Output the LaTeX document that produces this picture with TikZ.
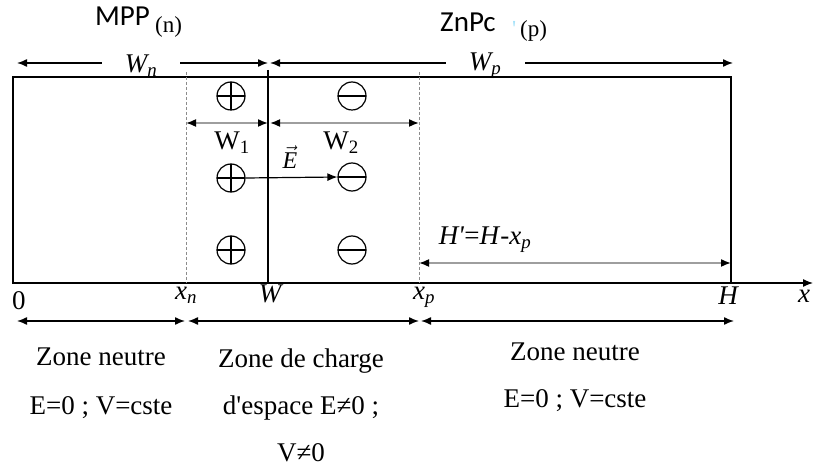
\documentclass[tikz,border=0pt]{standalone}
\usepackage{fontspec}
\setmainfont{Liberation Serif}
\newfontfamily\calib{Carlito}
\usetikzlibrary{arrows.meta,positioning}

\begin{document}
\begin{tikzpicture}[x=1pt, y=-1pt,
  font=\fontsize{27}{49}\selectfont,
  tip/.style={{Latex[length=10pt,width=8pt,color=black]}-{Latex[length=10pt,width=8pt,color=black]}},
  dimarr/.style={tip, line width=1.4pt},
  grayarr/.style={tip, line width=1.6pt, draw=black!38},
  lim/.style={densely dashed, draw=black!45, line width=1pt},
  lbl/.style={inner sep=1pt},
  gap/.style={fill=white, inner ysep=0pt},
  chg/.style={circle, draw, line width=1.2pt, minimum size=28pt, inner sep=0pt},
  chgplus/.style={chg, path picture={\draw[line width=1.2pt]
      (path picture bounding box.north) -- (path picture bounding box.south)
      (path picture bounding box.west) -- (path picture bounding box.east);}},
  chgminus/.style={chg, path picture={\draw[line width=1.2pt]
      (path picture bounding box.west) -- (path picture bounding box.east);}}
]
\useasboundingbox (0,0) rectangle (814,470);

% materials
\node[lbl, anchor=base west] (mpp) at (94,26) {\calib\fontsize{29}{30}\selectfont MPP};
\node[lbl, anchor=base west] (nn) at (154,33) {\fontsize{23}{23}\selectfont(n)};
\node[lbl, anchor=base west] (znpc) at (439,32) {\calib\fontsize{29}{30}\selectfont ZnPc};
\node[lbl, anchor=base west] (pp) at (511,37)
  {\fontsize{23}{23}\selectfont{\color{cyan!35}\textquotesingle}\,(p)};

% widths on top
\coordinate (wnl) at (17,63);
\coordinate (wnr) at (268,63);
\coordinate (wpl) at (270,63);
\coordinate (wpr) at (733,63);
\draw[dimarr] (wnl) -- (wnr);
\draw[dimarr] (wpl) -- (wpr);
\node[gap, minimum width=78pt] (wn) at (141,66) {\itshape W\textsubscript{n}};
\node[gap, minimum width=79pt] (wp) at (485,66) {\itshape W\textsubscript{p}};

% corners and marks of the device
\coordinate (o) at (13,283);
\coordinate (xend) at (813,283);
\coordinate (wt) at (268,70);
\coordinate (wb) at (268,283);
\coordinate (xnt) at (186,72);
\coordinate (xnb) at (186,283);
\coordinate (xpt) at (419,72);
\coordinate (xpb) at (419,283);
\draw[line width=1.3pt] (13,77) rectangle (731,283);
\draw[line width=1.3pt, -{Latex[length=10pt,width=8pt]}] (o) -- (xend);
\draw[line width=1.3pt] (wt) -- (wb);
\draw[lim] (xnt) -- (xnb);
\draw[lim] (xpt) -- (xpb);

% charges
\node[chgplus] (p1) at (231,96) {};
\node[chgplus] (p2) at (231,178) {};
\node[chgplus] (p3) at (231,250) {};
\node[chgminus] (m1) at (352,96) {};
\node[chgminus] (m2) at (352,177) {};
\node[chgminus] (m3) at (352,250) {};
\draw[line width=1.2pt, -{Latex[length=10pt,width=8pt]}] (p2.east) -- (m2.west);
\node[lbl, font=\fontsize{24}{24}\selectfont] (efld) at (290,157) {$\vec{\textit{E}}$};

% W1, W2
\coordinate (w1l) at (186,123);
\coordinate (w1r) at (268,123);
\coordinate (w2l) at (270,123);
\coordinate (w2r) at (419,123);
\draw[grayarr] (w1l) -- (w1r);
\draw[grayarr] (w2l) -- (w2r);
\node[lbl] (w1) at (232,143) {W\textsubscript{1}};
\node[lbl] (w2) at (341,143) {W\textsubscript{2}};

% H'
\coordinate (hl) at (419,263);
\coordinate (hr) at (731,263);
\draw[grayarr] (hl) -- (hr);
\node[lbl] (hh) at (485,240)
  {\textit{H\textquotesingle}=\textit{H}-\textit{x}\textsubscript{\textit{p}}};

% axis marks
\node[lbl] (zero) at (19,301) {0};
\node[lbl] (xn) at (186,295) {\itshape x\textsubscript{n}};
\node[lbl] (w) at (270,294) {\itshape W};
\node[lbl] (xp) at (424,297) {\itshape x\textsubscript{p}};
\node[lbl] (h) at (728,296) {\itshape H};
\node[lbl] (x) at (804,296) {\itshape x};

% zones
\coordinate (z0) at (17,321);
\coordinate (z1) at (185,321);
\coordinate (z2) at (188,321);
\coordinate (z3) at (419,321);
\coordinate (z4) at (421,321);
\coordinate (z5) at (734,321);
\draw[dimarr] (z0) -- (z1);
\draw[dimarr] (z2) -- (z3);
\draw[dimarr] (z4) -- (z5);
\node[lbl, align=center] (zn1) at (101,383) {Zone neutre\\E=0 ; V=cste};
\node[lbl, align=center, font=\fontsize{27}{47}\selectfont] (zce) at (301,405)
  {Zone de charge\\d\textquotesingle espace E≠0 ;\\V≠0};
\node[lbl, align=center, font=\fontsize{27}{47}\selectfont] (zn2) at (575,377)
  {Zone neutre\\E=0 ; V=cste};
\end{tikzpicture}
\end{document}
